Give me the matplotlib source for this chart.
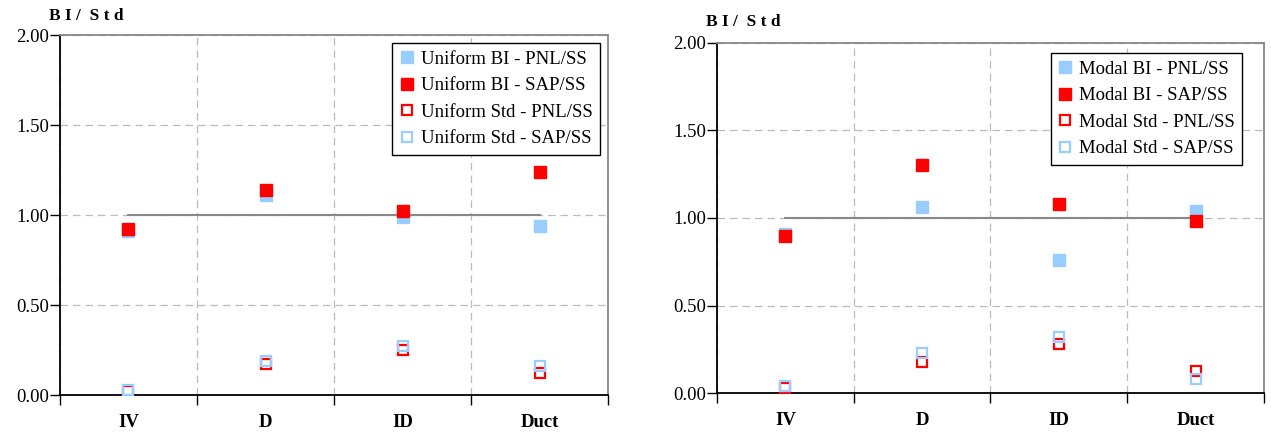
import matplotlib.pyplot as plt

categories = ["IV", "D", "ID", "Duct"]

uniform_bi_pnl = [0.91, 1.11, 0.99, 0.94]
uniform_bi_sap = [0.92, 1.14, 1.02, 1.24]
uniform_std_pnl = [0.02, 0.17, 0.25, 0.12]
uniform_std_sap = [0.03, 0.19, 0.27, 0.16]

modal_bi_pnl = [0.91, 1.06, 0.76, 1.04]
modal_bi_sap = [0.90, 1.30, 1.08, 0.98]
modal_std_pnl = [0.03, 0.18, 0.28, 0.13]
modal_std_sap = [0.04, 0.23, 0.32, 0.08]

yticks = [0.0, 0.5, 1.0, 1.5, 2.0]

BLUE = "#99ccff"
RED = "#ff0000"
SERIF = "Liberation Serif"


def draw_panel(ax, prefix, bi_pnl, bi_sap, std_pnl, std_sap, label_y, leg_anchor):
    x = [i + 0.5 for i in range(len(categories))]

    # reference line at 1.0 spanning first to last category
    ax.plot([x[0], x[-1]], [1.0, 1.0], color="#888888", lw=1.5, zorder=2)

    ms = 8.5
    ax.plot(x, bi_pnl, "s", ms=ms, color=BLUE, mec=BLUE, ls="none",
            label=f"{prefix} BI - PNL/SS", zorder=3)
    ax.plot(x, bi_sap, "s", ms=ms, color=RED, mec=RED, ls="none",
            label=f"{prefix} BI - SAP/SS", zorder=4)
    ax.plot(x, std_pnl, "s", ms=ms - 1, mfc="white", mec=RED, mew=1.6, ls="none",
            label=f"{prefix} Std - PNL/SS", zorder=5)
    ax.plot(x, std_sap, "s", ms=ms - 1, mfc="none", mec=BLUE, mew=1.6, ls="none",
            label=f"{prefix} Std - SAP/SS", zorder=6)

    ax.set_xlim(0, len(categories))
    ax.set_ylim(0, 2.0)
    ax.set_yticks(yticks)
    ax.set_yticklabels([f"{v:.2f}" for v in yticks], fontfamily=SERIF, fontsize=13.5)
    ax.set_xticks(range(len(categories) + 1))
    ax.set_xticklabels([])
    for xi, name in zip(x, categories):
        ax.text(xi, -0.105, name, ha="center", va="top", fontfamily=SERIF,
                fontweight="bold", fontsize=13.5, transform=ax.transData)

    ax.tick_params(axis="y", direction="out", length=7, width=1, pad=1)
    ax.tick_params(axis="x", direction="out", length=7, width=1)

    ax.grid(True, color="#bbbbbb", ls=(0, (6, 4)), lw=0.9)
    ax.set_axisbelow(True)

    ax.spines["left"].set_color("black")
    ax.spines["bottom"].set_color("black")
    ax.spines["left"].set_linewidth(1.3)
    ax.spines["bottom"].set_linewidth(1.3)
    ax.spines["top"].set_color("#888888")
    ax.spines["right"].set_color("#888888")
    ax.spines["top"].set_linewidth(1.3)
    ax.spines["right"].set_linewidth(1.3)

    ax.text(-0.02, label_y, "B I /  S t d", transform=ax.transAxes, ha="left",
            va="bottom", fontfamily=SERIF, fontweight="bold", fontsize=12.5)

    leg = ax.legend(loc="upper right", bbox_to_anchor=leg_anchor, frameon=True,
                    fancybox=False, edgecolor="black", framealpha=1,
                    prop={"family": SERIF, "size": 13.5}, handlelength=0.7,
                    handletextpad=0.4, borderpad=0.4, labelspacing=0.5,
                    borderaxespad=0.0)
    leg.get_frame().set_linewidth(1.0)


fig = plt.figure(figsize=(12.71, 4.32), dpi=100)
ax1 = fig.add_axes([0.0472, 0.0856, 0.4312, 0.8333])
ax2 = fig.add_axes([0.5641, 0.0896, 0.4304, 0.8116])

draw_panel(ax1, "Uniform", uniform_bi_pnl, uniform_bi_sap, uniform_std_pnl,
           uniform_std_sap, 1.03, (0.985, 0.978))
draw_panel(ax2, "Modal", modal_bi_pnl, modal_bi_sap, modal_std_pnl,
           modal_std_sap, 1.035, (0.96, 0.97))

fig.savefig("out.png", dpi=100)
